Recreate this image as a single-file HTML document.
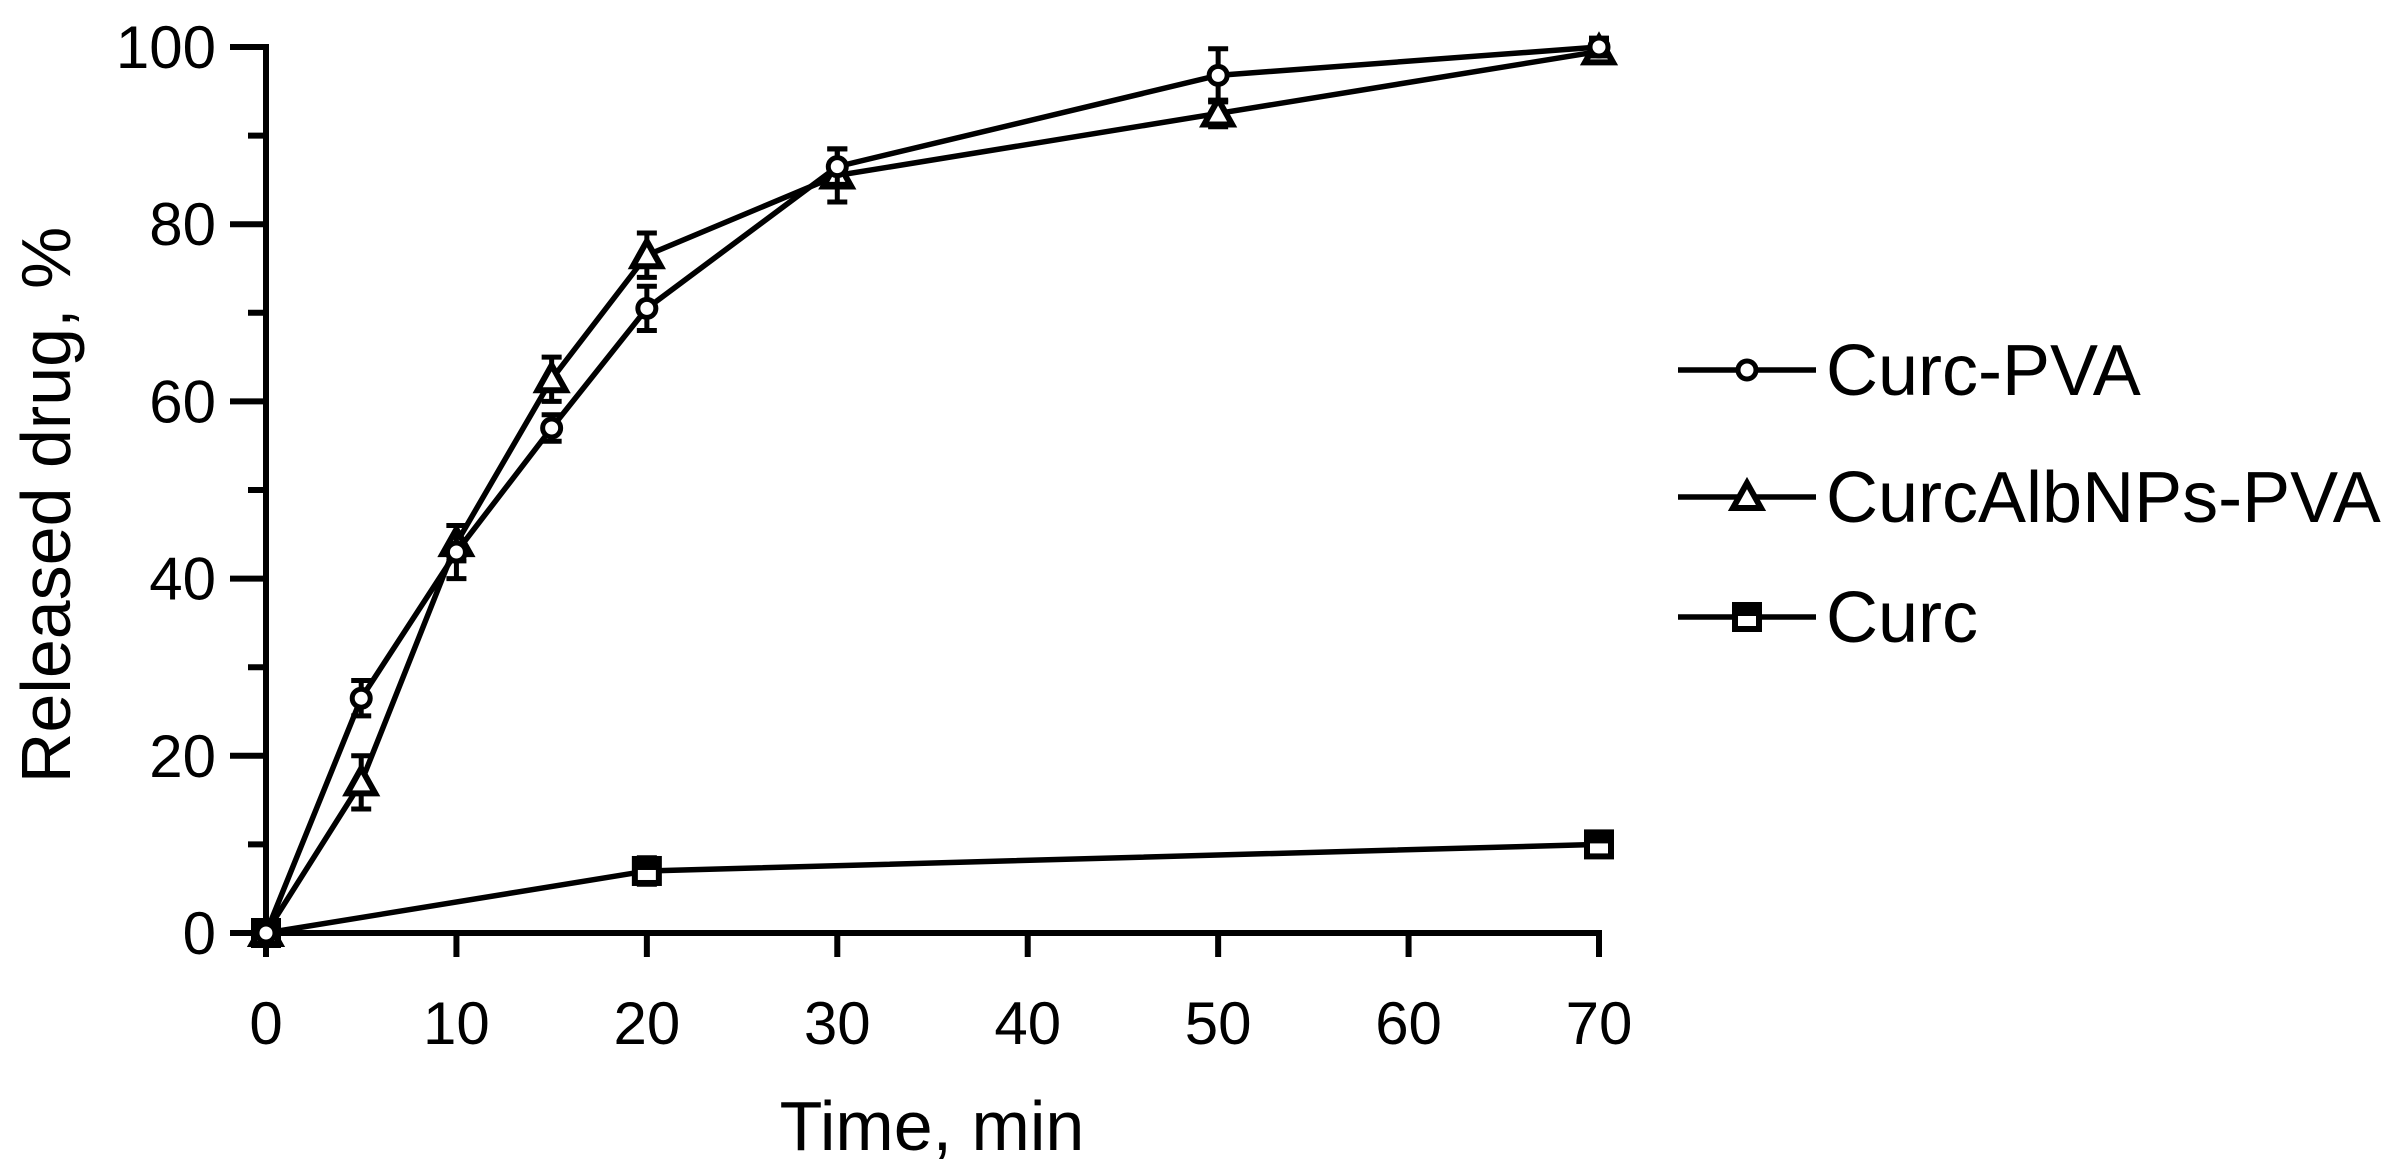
<!DOCTYPE html>
<html><head><meta charset="utf-8"><style>
html,body{margin:0;padding:0;background:#fff;}
svg text{font-family:"Liberation Sans",Arial,sans-serif;fill:#000;}
</style></head><body>
<svg id="chart" width="2397" height="1167" viewBox="0 0 2397 1167" xmlns="http://www.w3.org/2000/svg">
<g id="axes"></g><g id="series"></g><g id="legend"></g>
</svg>
<script>
const xTicks=[0,10,20,30,40,50,60,70];
const yTicks=[0,20,40,60,80,100];
const yMinor=[10,30,50,70,90];
const timesPVA=[0,5,10,15,20,30,50,70];
const valsPVA=[0,26.5,43,57,70.5,86.5,96.8,100];
const errPVA=[0,2,3,1.5,2.5,2,3,1];
const timesAlb=[0,5,10,15,20,30,50,70];
const valsAlb=[0,17,44,62.5,76.5,85.5,92.5,99.5];
const errAlb=[0,3,2,2.5,2.5,3,1.5,1];
const timesCurc=[0,20,70];
const valsCurc=[0,7,10];
const errCurc=[0,1.5,0.5];
const seriesNames=["Curc-PVA","CurcAlbNPs-PVA","Curc"];

const NS="http://www.w3.org/2000/svg";
const X0=266,X1=1599,Y0=933,Y1=47;
function xs(v){return X0+(v/70)*(X1-X0);}
function ys(v){return Y0-(v/100)*(Y0-Y1);}
function mk(tag,attrs,parent,txt){const e=document.createElementNS(NS,tag);for(const k in attrs)e.setAttribute(k,attrs[k]);if(txt!==undefined)e.textContent=txt;parent.appendChild(e);return e;}
const axes=document.getElementById('axes');
let e;
e=mk('line',{x1:X0,y1:Y1-3,x2:X0,y2:Y0,stroke:'#000','stroke-width':6},axes);


e=mk('line',{x1:X0-18,y1:Y0,x2:X1+3,y2:Y0,stroke:'#000','stroke-width':6},axes);


xTicks.forEach(t=>{
  mk('line',{x1:xs(t),y1:Y0,x2:xs(t),y2:Y0+24,stroke:'#000','stroke-width':6},axes);
  e=mk('text',{x:xs(t),y:1044,'font-size':60,'text-anchor':'middle'},axes,String(t));
  
  
});
yTicks.forEach(t=>{
  mk('line',{x1:X0-36,y1:ys(t),x2:X0,y2:ys(t),stroke:'#000','stroke-width':6},axes);
  e=mk('text',{x:216,y:ys(t)+21,'font-size':60,'text-anchor':'end'},axes,String(t));
  
  
});
yMinor.forEach(t=>{mk('line',{x1:X0-18,y1:ys(t),x2:X0,y2:ys(t),stroke:'#000','stroke-width':6},axes);});
e=mk('text',{x:932,y:1150,'font-size':70,'text-anchor':'middle'},axes,'Time, min');


e=mk('text',{x:0,y:0,'font-size':70,'text-anchor':'middle',transform:'translate(70,505) rotate(-90)'},axes,'Released drug, %');



const ser=document.getElementById('series');
function marker(type,cx,cy,g){
  if(type==='circle')return mk('circle',{cx:cx,cy:cy,r:9,fill:'#fff',stroke:'#000','stroke-width':5},g);
  if(type==='tri')return mk('polygon',{points:`${cx},${cy-14} ${cx-14},${cy+11} ${cx+14},${cy+11}`,fill:'#fff',stroke:'#000','stroke-width':6},g);
  const gg=mk('g',{},g);
  mk('rect',{x:cx-12,y:cy-12,width:24,height:24,fill:'#fff',stroke:'#000','stroke-width':6},gg);
  mk('rect',{x:cx-12,y:cy-12,width:24,height:11,fill:'#000'},gg);
  return gg;
}
function drawSeries(name,T,V,E,type){
  const g=mk('g',{},ser);
  
  
  const pts=T.map((t,i)=>xs(t)+','+ys(V[i])).join(' ');
  mk('polyline',{points:pts,fill:'none',stroke:'#000','stroke-width':5.5},g);
  T.forEach((t,i)=>{
    if(E[i]>0){
      const x=xs(t),a=ys(V[i]+E[i]),b=ys(V[i]-E[i]);
      const eb=mk('path',{d:`M${x},${a}V${b}M${x-10},${a}H${x+10}M${x-10},${b}H${x+10}`,stroke:'#000','stroke-width':5,fill:'none'},g);
      
      
    }
    const m=marker(type,xs(t),ys(V[i]),g);
    
    
  });
}
drawSeries(seriesNames[2],timesCurc,valsCurc,errCurc,'square');
drawSeries(seriesNames[1],timesAlb,valsAlb,errAlb,'tri');
drawSeries(seriesNames[0],timesPVA,valsPVA,errPVA,'circle');

const leg=document.getElementById('legend');
const types=['circle','tri','square'];
const legY=[370,497,617];
seriesNames.forEach((n,i)=>{
  const g=mk('g',{},leg);
  
  
  mk('line',{x1:1678,y1:legY[i],x2:1816,y2:legY[i],stroke:'#000','stroke-width':5.5},g);
  marker(types[i],1747,legY[i],g);
  mk('text',{x:1826,y:legY[i]+25,'font-size':72},g,n);
});
</script>
</body></html>
